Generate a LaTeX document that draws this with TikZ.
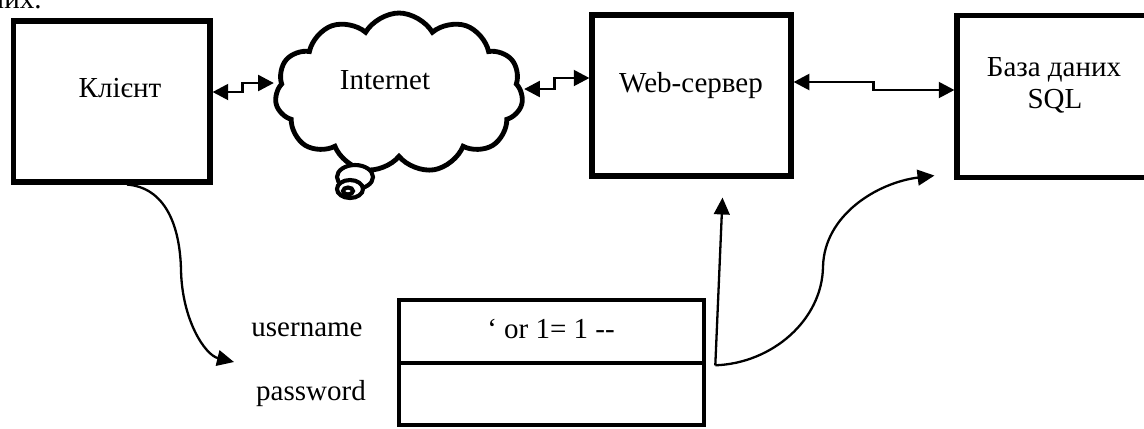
\documentclass[tikz,border=0pt]{standalone}
\usepackage{fontspec}
\setmainfont{Liberation Serif}
\usetikzlibrary{shapes.symbols,arrows.meta,calc}
\newdimen\pxu
\pxu=0.4138pt

\begin{document}
\begin{tikzpicture}[x=\pxu,y=-\pxu,font=\fontsize{12}{14}\selectfont,
        box/.style={draw,line width=2.1pt,fill=white,inner sep=0pt},
        field/.style={draw,line width=1.9pt,inner sep=0pt,minimum width=305\pxu},
        link/.style={{Triangle[length=6.5pt,width=6.5pt]}-{Triangle[length=6.5pt,width=6.5pt]},line width=1.2pt},
        flow/.style={-{Triangle[length=7pt,width=6.5pt]},line width=0.95pt}]
        \useasboundingbox (0,0) rectangle (1144,428);

        \node[anchor=base east,inner sep=0pt] (prev) at (42,8) {даних.};

        % blocks
        \node[box,minimum width=196.5\pxu,minimum height=161\pxu] (client) at (111.75,101.5) {};
        \node[box,minimum width=199\pxu,minimum height=161\pxu] (web) at (691.5,95.5) {};
        \node[box,minimum width=196\pxu,minimum height=162\pxu] (db) at (1055,96.5) {};
        \node[cloud,draw,line width=2pt,fill=white,cloud puffs=11,cloud puff arc=120,aspect=1.55,
            minimum width=248\pxu,minimum height=160\pxu,inner sep=0pt] (net) at (399,93) {};
        \draw[line width=1.7pt,fill=white] (355,177) ellipse [x radius=18,y radius=12];
        \draw[line width=1.7pt,fill=white] (350,189) ellipse [x radius=13,y radius=9];
        \draw[line width=1.7pt,fill=white] (348,191) ellipse [x radius=5,y radius=3.5];

        \node[anchor=base] (clientlbl) at (120,97) {Клієнт};
        \node[anchor=base] (netlbl) at (385,89) {Internet};
        \node[anchor=base] (weblbl) at (691,92) {Web-сервер};
        \node[anchor=base] (dblbl) at (1054,76) {База даних};
        \node[anchor=base] (sqllbl) at (1055,108) {SQL};

        % login form
        \node[field,minimum height=63\pxu] (user) at (551.5,331.5) {};
        \node[field,minimum height=62\pxu] (pass) at (551.5,394) {};
        \node[anchor=base] (inject) at (551,338) {‘ or 1= 1 -{}-};
        \node[anchor=base] (userlbl) at (307,336) {username};
        \node[anchor=base] (passlbl) at (311,400) {password};

        \draw[link] ($(client.east)+(0,-9.5)$) -- ++(30,0) |- ($(net.west)+(0,-10)$);
        \draw[link] ($(net.east)+(0,-4)$) -- ++(30,0) |- ($(web.west)+(0,-17.5)$);
        \draw[link] ($(web.east)+(0,-13.5)$) -- ++(80,0) |- ($(db.west)+(0,-6.5)$);

        \coordinate (entry) at (234,362);
        \draw[flow] ($(client.south)+(15.25,0)$) .. controls +(38,3) and +(-1,-45) .. (181,270)
            .. controls +(1,50) and +(-29,-7) .. (entry);
        \draw[flow] ($(user.south east)+(9,0)$) coordinate (split) -- ($(web.south)+(31,19)$);
        \draw[flow] (split) .. controls +(57,-2) and +(-1,53) .. (823,267)
            .. controls +(1,-52) and +(-57,7) .. ($(db.south west)+(-20,-4.5)$);
    \end{tikzpicture}
\end{document}
